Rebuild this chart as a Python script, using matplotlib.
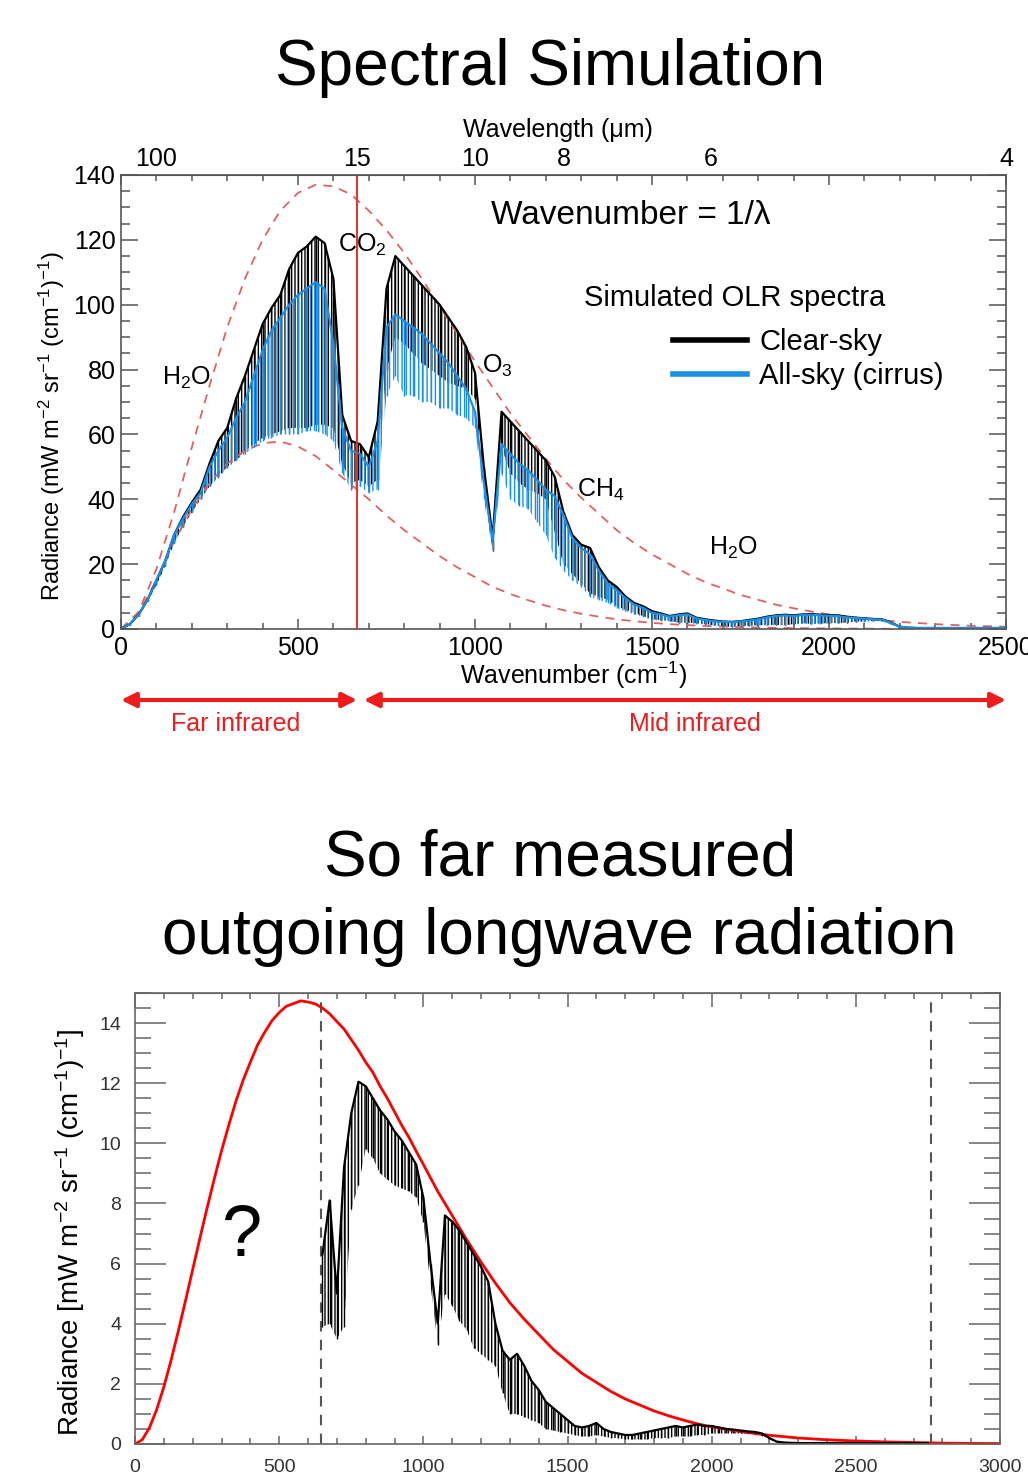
import numpy as np
import matplotlib
matplotlib.use('Agg')
import matplotlib.pyplot as plt
from matplotlib.lines import Line2D
from matplotlib.ticker import MultipleLocator, NullFormatter

plt.rcParams['font.family'] = ['Liberation Sans', 'DejaVu Sans']
plt.rcParams['mathtext.fontset'] = 'custom'
plt.rcParams['mathtext.rm'] = 'Liberation Sans'
plt.rcParams['mathtext.it'] = 'Liberation Sans:italic'
plt.rcParams['mathtext.bf'] = 'Liberation Sans:bold'
plt.rcParams['hatch.linewidth'] = 1.0

W, H = 1028, 1476

# ---------------- top panel: simulated spectra (every 25 cm-1) ----------------
wn_sim = np.arange(0, 2501, 25)
clear_top = [0, 1.5, 4.5, 9, 15, 21, 29, 34.5, 39, 43,
             51, 58, 62, 71, 78, 86, 94, 99, 103, 111,
             116, 118, 121, 119, 108, 66, 58, 57, 53, 64,
             105, 115, 112, 109, 106, 103, 100, 96, 92, 87,
             79, 50, 28, 67, 64, 61, 58, 55, 52, 47,
             36, 29, 26, 25, 19, 15, 13, 10, 8, 7,
             5.5, 4.8, 4, 4.5, 4.8, 3.5, 3, 2.6, 2.3, 2.2,
             2.4, 2.8, 3.2, 3.8, 4.2, 4.4, 4.2, 4.5, 4.6, 4.4,
             4.3, 4.2, 3.8, 3.5, 3.3, 3.1, 3.0, 2.0, 0.7, 0.4,
             0.3, 0.3, 0.3, 0.3, 0.3, 0.3, 0.3, 0.3, 0.3, 0.3,
             0.3]
clear_bot = [0, 1.2, 4, 8.5, 13.5, 19.5, 26.5, 31.5, 36, 40,
             44, 47, 50, 52, 55, 57, 59, 60, 61, 62,
             62, 62, 63, 63, 62, 51, 45, 46, 44, 46,
             80, 90, 88, 85, 82, 80, 78, 76, 75, 74,
             71, 44, 24, 56, 48, 45, 43, 42, 40, 30,
             20, 17, 14, 11, 10, 9, 7, 6, 5, 4,
             3, 2.8, 2.5, 2, 2, 1.8, 1.5, 1.2, 0.8, 0.7,
             0.9, 1, 1.2, 1.3, 1.3, 1.2, 1.5, 1.8, 1.6, 1.7,
             1.8, 1.9, 2, 2.3, 2.4, 2.5, 2.5, 1.5, 0.4, 0.3,
             0.2, 0.2, 0.2, 0.2, 0.2, 0.2, 0.2, 0.2, 0.2, 0.2,
             0.2]
cirrus_top = [0, 1.5, 4.5, 9, 15, 21, 29, 34, 38.5, 42,
              50, 55, 59, 65, 70, 78, 86, 92, 96, 100,
              103, 105, 107, 105, 88, 62, 55, 54, 50, 58,
              93, 97, 95, 93, 91, 88, 85, 82, 78, 74,
              67, 45, 27, 57, 54, 51, 49, 46, 43, 41,
              35, 28, 25, 23, 18, 14, 12, 9.5, 7.5, 6.5,
              5, 4.5, 3.8, 4.3, 4.5, 3.3, 2.8, 2.4, 2.2, 2.1,
              2.3, 2.6, 3, 3.6, 4, 4.2, 4, 4.3, 4.4, 4.2,
              4.1, 4.0, 3.6, 3.4, 3.2, 3.0, 2.9, 1.9, 0.7, 0.4,
              0.3, 0.3, 0.3, 0.3, 0.3, 0.3, 0.3, 0.3, 0.3, 0.3,
              0.3]
cirrus_bot = [0, 1.2, 4, 8.5, 13.5, 19.5, 26.5, 31.5, 36, 40,
              44, 46.5, 49.5, 52, 54, 56, 58, 59, 60, 60,
              60, 61, 61, 60, 58, 48, 43, 44, 42, 43,
              72, 78, 72, 72, 70, 70, 68, 68, 66, 65,
              62, 40, 24, 48, 40, 38, 37, 33, 29, 22,
              18, 15, 13, 10, 9, 8, 6.5, 5.5, 4.5, 3.8,
              2.8, 2.6, 2.4, 1.9, 1.8, 1.6, 1.4, 1.1, 0.7, 0.7,
              0.8, 0.9, 1.1, 1.2, 1.2, 1.1, 1.4, 1.7, 1.5, 1.6,
              1.7, 1.8, 1.9, 2.2, 2.3, 2.4, 2.4, 1.4, 0.4, 0.3,
              0.2, 0.2, 0.2, 0.2, 0.2, 0.2, 0.2, 0.2, 0.2, 0.2,
              0.2]

# blackbody envelopes (dashed)
wn_bb = np.r_[np.arange(0, 2001, 50), np.arange(2100, 2501, 100)]
bb_warm = [0, 5.3, 18.5, 36, 56, 75, 93, 108, 120, 129,
           134.5, 137, 136.5, 134, 129, 123, 116, 108, 99.5, 91,
           82.5, 74.5, 66.5, 59.5, 52.5, 46, 40.5, 35.5, 30.5, 26.5,
           23, 20, 17, 14.5, 12.5, 10.5, 9, 7.5, 6.4, 5.4,
           4.5, 3.2, 2.2, 1.5, 1.0, 0.7]
bb_cold = [0, 5, 15, 27, 37, 45, 51, 55, 57.3, 57.8,
           56.3, 53.3, 49, 44.5, 40, 35, 30.5, 26.5, 22.5, 19,
           16, 13, 10.8, 8.9, 7.2, 5.8, 4.7, 3.8, 3.0, 2.4,
           1.9, 1.5, 1.2, 0.95, 0.75, 0.6, 0.46, 0.35, 0.27, 0.21,
           0.17, 0.1, 0.06, 0.04, 0.02, 0.01]

wavelength_ticks = [100, 15, 10, 8, 6, 4]
co2_wavelength = 15
legend_labels = ['Clear-sky', 'All-sky (cirrus)']
band_names = ['Far infrared', 'Mid infrared']
band_start = [0, 686]
band_end = [667, 2500]

# ---------------- bottom panel: measured spectrum ----------------
wn_meas = np.arange(650, 2751, 25)
meas_top = [6.3, 8.1, 5.0, 9.2, 11.0, 12.05, 11.9, 11.5, 11.1, 10.8,
            10.4, 10.1, 9.7, 9.3, 8.2, 6.0, 4.0, 7.6, 7.4, 7.1,
            6.7, 6.3, 5.9, 5.4, 4.0, 3.1, 2.8, 3.0, 2.6, 2.1,
            1.8, 1.4, 1.2, 1.0, 0.8, 0.6, 0.55, 0.6, 0.7, 0.5,
            0.4, 0.35, 0.3, 0.3, 0.35, 0.4, 0.45, 0.5, 0.55, 0.6,
            0.55, 0.6, 0.65, 0.6, 0.6, 0.55, 0.5, 0.48, 0.45, 0.42,
            0.4, 0.35, 0.2, 0.08, 0.05, 0.04, 0.03, 0.03, 0.03, 0.03,
            0.03, 0.03, 0.03, 0.03, 0.03, 0.03, 0.03, 0.03, 0.03, 0.03,
            0.03, 0.03, 0.03, 0.03, 0.03]
meas_bot = [3.9, 4.0, 3.5, 3.9, 7.8, 8.6, 9.8, 9.5, 9.0, 8.8,
            8.6, 8.5, 8.4, 8.2, 7.4, 5.3, 3.3, 5.0, 4.6, 4.1,
            3.8, 3.2, 3.0, 2.8, 2.6, 1.7, 1.0, 1.0, 0.9, 0.8,
            0.7, 0.5, 0.45, 0.4, 0.35, 0.3, 0.25, 0.25, 0.3, 0.25,
            0.2, 0.2, 0.15, 0.15, 0.15, 0.15, 0.2, 0.2, 0.2, 0.25,
            0.25, 0.25, 0.3, 0.3, 0.35, 0.35, 0.35, 0.35, 0.35, 0.35,
            0.33, 0.28, 0.15, 0.05, 0.03, 0.02, 0.02, 0.02, 0.02, 0.02,
            0.02, 0.02, 0.02, 0.02, 0.02, 0.02, 0.02, 0.02, 0.02, 0.02,
            0.02, 0.02, 0.02, 0.02, 0.02]
wn_bb2 = np.r_[np.arange(0, 1001, 25), np.arange(1050, 2001, 50), np.arange(2100, 3001, 100)]
bb_meas = [0, 0.14, 0.54, 1.14, 1.9, 2.78, 3.75, 4.76, 5.8, 6.84,
           7.85, 8.82, 9.75, 10.6, 11.4, 12.1, 12.7, 13.27, 13.7, 14.08,
           14.35, 14.56, 14.65, 14.74, 14.7, 14.64, 14.5, 14.31, 14.05, 13.8,
           13.45, 13.1, 12.7, 12.36, 11.9, 11.5, 11.05, 10.6, 10.2, 9.74,
           9.3,
           8.4, 7.6, 6.8, 6.05, 5.35, 4.7, 4.15, 3.65, 3.15, 2.75,
           2.35, 2.05, 1.75, 1.5, 1.3, 1.1, 0.94, 0.8, 0.67, 0.57,
           0.41, 0.29, 0.2, 0.14, 0.1, 0.07, 0.05, 0.03, 0.02, 0.015]
instrument_limits = [645, 2760]

BLUE = '#1a8fe6'
DASHRED = '#e06262'


def fx(px):
    return px / W


def fy(py):
    return 1 - py / H


def spectrum(ax, wn, top, bot, color, lw=1.0, hatch='|||||'):
    # dense line texture between the continuum and the line minima
    ax.fill_between(wn, bot, top, facecolor='none', edgecolor=color, hatch=hatch, linewidth=0)
    ax.vlines(wn, bot, top, color=color, lw=lw)
    ax.plot(wn, top, color=color, lw=lw * 1.6)


fig = plt.figure(figsize=(W / 100, H / 100), dpi=100)

# ======================= top panel =======================
ax1 = fig.add_axes([fx(121), fy(629), fx(1006) - fx(121), fy(175) - fy(629)])
ax1.set_xlim(0, 2500)
ax1.set_ylim(0, 140)
ax1.plot(wn_bb, bb_warm, color=DASHRED, lw=1.3, dashes=(5, 4))
ax1.plot(wn_bb, bb_cold, color=DASHRED, lw=1.3, dashes=(5, 4))
spectrum(ax1, wn_sim, clear_top, clear_bot, 'black')
spectrum(ax1, wn_sim, cirrus_top, cirrus_bot, BLUE, hatch='||||')
ax1.axvline(1e4 / co2_wavelength, color='#e8302a', lw=1.4)

ax1.xaxis.set_major_locator(MultipleLocator(500))
ax1.xaxis.set_minor_locator(MultipleLocator(100))
ax1.yaxis.set_major_locator(MultipleLocator(20))
ax1.yaxis.set_minor_locator(MultipleLocator(5))
ax1.tick_params(which='both', direction='in', top=True, right=True,
                color='#555555', labelcolor='black', labelsize=18, width=1.1)
ax1.tick_params(axis='x', which='major', length=7, pad=5)
ax1.tick_params(axis='x', which='minor', length=4)
ax1.tick_params(axis='y', which='major', length=12, pad=4)
ax1.tick_params(axis='y', which='minor', length=6.5)
for s in ax1.spines.values():
    s.set_color('#555555')
    s.set_linewidth(1.2)

sec = ax1.secondary_xaxis('top')
sec.set_xticks([1e4 / l for l in wavelength_ticks], labels=[str(l) for l in wavelength_ticks])
sec.tick_params(length=0, pad=3, labelsize=18)
sec.spines['top'].set_color('#555555')

ax1.text(1045, 127.4, 'Wavenumber = 1/λ', fontsize=24, va='center', ha='left')
ax1.text(1308, 102, 'Simulated OLR spectra', fontsize=21, va='center', ha='left')
handles = [Line2D([], [], color='black', lw=4), Line2D([], [], color=BLUE, lw=4)]
ax1.legend(handles, legend_labels, loc='upper left', bbox_to_anchor=(0.6237, 0.663),
           frameon=False, fontsize=21, handlelength=2.55, handletextpad=0.4,
           labelspacing=0.22, borderpad=0, borderaxespad=0)

for txt, x, y in [('H$_2$O', 186, 77.5), ('CO$_2$', 681, 118.5), ('O$_3$', 1062, 81),
                  ('CH$_4$', 1356, 43), ('H$_2$O', 1729, 25)]:
    ax1.text(x, y, txt, fontsize=18, ha='center', va='center')

fig.text(fx(574), fy(675), 'Wavenumber (cm$^{-1}$)', fontsize=18, ha='center', va='center')
fig.text(fx(558), fy(130), 'Wavelength (μm)', fontsize=18, ha='center', va='center')
fig.text(fx(52), fy(426), 'Radiance (mW m$^{-2}$ sr$^{-1}$ (cm$^{-1}$)$^{-1}$)', fontsize=17,
         rotation=90, ha='center', va='center')
fig.text(fx(550), fy(68), 'Spectral Simulation', fontsize=46, ha='center', va='center')

for name, a, b in zip(band_names, band_start, band_end):
    ax1.annotate('', xy=(b, fy(700)), xytext=(a, fy(700)), xycoords=('data', 'figure fraction'),
                 textcoords=('data', 'figure fraction'), annotation_clip=False,
                 arrowprops=dict(arrowstyle='<|-|>', color='#ee1c1c', lw=3, mutation_scale=22,
                                 shrinkA=0, shrinkB=0))
fig.text(fx(236), fy(724), band_names[0], color='#ee1c1c', fontsize=18, ha='center', va='center')
fig.text(fx(695), fy(724), band_names[1], color='#ee1c1c', fontsize=18, ha='center', va='center')

# ======================= bottom panel =======================
fig.text(fx(560), fy(858), 'So far measured', fontsize=46, ha='center', va='center')
fig.text(fx(559), fy(937), 'outgoing longwave radiation', fontsize=46, ha='center', va='center')

ax2 = fig.add_axes([fx(135), fy(1444), fx(1000) - fx(135), fy(993) - fy(1444)])
ax2.set_xlim(0, 3000)
ax2.set_ylim(0, 15)
for v in instrument_limits:
    ax2.axvline(v, color='#555555', lw=1.5, dashes=(5, 4))
ax2.plot(wn_bb2, bb_meas, color='red', lw=2)
spectrum(ax2, wn_meas, meas_top, meas_bot, 'black')

ax2.xaxis.set_major_locator(MultipleLocator(500))
ax2.xaxis.set_minor_locator(MultipleLocator(100))
ax2.yaxis.set_major_locator(MultipleLocator(2))
ax2.yaxis.set_minor_locator(MultipleLocator(0.5))
ax2.tick_params(which='both', direction='in', right=True, color='#666666',
                labelcolor='#333333', labelsize=14, width=1.1)
ax2.tick_params(axis='y', which='major', length=22, pad=10)
ax2.tick_params(axis='y', which='minor', length=11.5)
ax2.tick_params(axis='x', which='major', length=6, pad=11)
ax2.tick_params(axis='x', which='minor', length=4.5)
for s in ax2.spines.values():
    s.set_color('#666666')
    s.set_linewidth(1.2)
top2 = ax2.secondary_xaxis('top')
top2.xaxis.set_major_locator(MultipleLocator(500))
top2.xaxis.set_minor_locator(MultipleLocator(100))
top2.xaxis.set_major_formatter(NullFormatter())
top2.tick_params(which='both', direction='in', color='#666666', width=1.1)
top2.tick_params(which='major', length=10)
top2.tick_params(which='minor', length=4.5)
top2.spines['top'].set_color('#666666')

fig.text(fx(242), fy(1237), '?', fontsize=52, ha='center', va='center')
fig.text(fx(70), fy(1232), 'Radiance [mW m$^{-2}$ sr$^{-1}$ (cm$^{-1}$)$^{-1}$]', fontsize=20,
         rotation=90, ha='center', va='center')

fig.savefig('out.png', dpi=100, facecolor='white')
